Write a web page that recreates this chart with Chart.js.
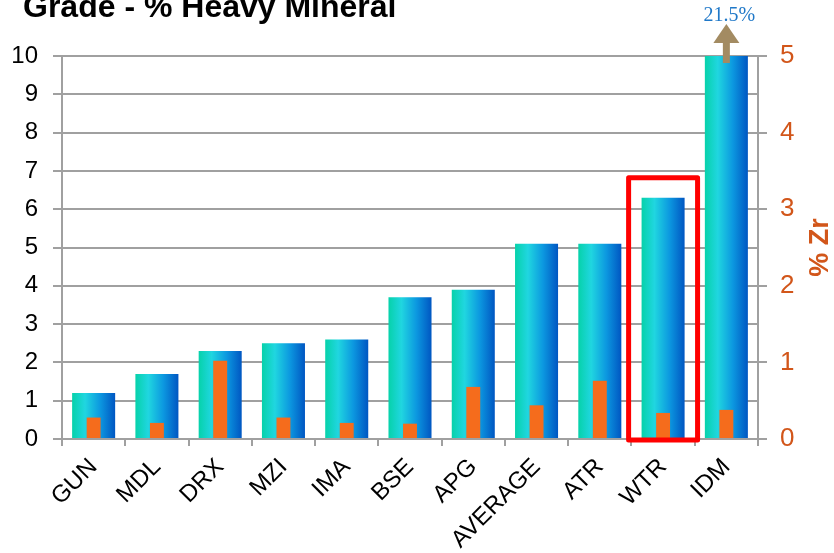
<!DOCTYPE html>
<html>
<head>
<meta charset="utf-8">
<script src="https://cdn.jsdelivr.net/npm/chart.js@4"></script>
<style>
  body { margin: 0; background: #fff; }
  canvas { display: block; }
</style>
</head>
<body>
<canvas id="grade" width="834" height="553"></canvas>
<script>
// sample sites, sorted by heavy mineral grade
const sites = ['GUN', 'MDL', 'DRX', 'MZI', 'IMA', 'BSE', 'APG', 'AVERAGE', 'ATR', 'WTR', 'IDM'];
// % heavy mineral (left axis) - IDM is off the scale, real value 21.5
const heavyMineral = [1.2, 1.7, 2.3, 2.5, 2.6, 3.7, 3.9, 5.1, 5.1, 6.3, 21.5];
// % Zr (right axis)
const zircon = [0.28, 0.21, 1.02, 0.28, 0.21, 0.2, 0.68, 0.44, 0.76, 0.34, 0.38];
const leftTicks = [0, 10];
const rightTicks = [0, 5];
const clippedSite = 'IDM';
const clippedLabel = '21.5%';
const boxedSite = 'WTR';

const gray = '#a0a0a0';
const orange = '#d2561a';

function barGradient(ctx) {
  const chart = ctx.chart;
  if (!chart.chartArea || ctx.type !== 'data') return '#12b4dc';
  const x = chart.scales.x;
  const cx = x.getPixelForValue(ctx.dataIndex);
  const w = (x.width / sites.length) * 0.68;
  const g = chart.ctx.createLinearGradient(cx - w / 2, 0, cx + w / 2, 0);
  g.addColorStop(0, '#06d2aa');
  g.addColorStop(0.3, '#20d6e0');
  g.addColorStop(0.65, '#0c98e0');
  g.addColorStop(1, '#0056c2');
  return g;
}

const extras = {
  id: 'extras',
  afterDraw(chart) {
    const c = chart.ctx;
    const x = chart.scales.x, y = chart.scales.y;
    const area = chart.chartArea;
    c.save();
    // chart title (cut off at the top like the original)
    c.fillStyle = '#000';
    c.font = 'bold 32px "Liberation Sans", Arial, sans-serif';
    c.textAlign = 'left';
    c.textBaseline = 'alphabetic';
    c.fillText('Grade - % Heavy Mineral', 23, 17);

    // right axis title, reads bottom to top
    c.save();
    c.translate(area.right + 63, (area.top + area.bottom) / 2);
    c.rotate(-Math.PI / 2);
    c.fillStyle = orange;
    c.font = 'bold 27px "Liberation Sans", Arial, sans-serif';
    c.textAlign = 'center';
    c.textBaseline = 'middle';
    c.fillText('% Zr', 0, 0);
    c.restore();

    // arrow + real value for the clipped bar
    const ix = x.getPixelForValue(sites.indexOf(clippedSite));
    const top = y.getPixelForValue(leftTicks[1]);
    c.fillStyle = '#a38b62';
    c.fillRect(ix - 3.5, top - 16, 7, 23);
    c.beginPath();
    c.moveTo(ix - 13, top - 13);
    c.lineTo(ix, top - 32);
    c.lineTo(ix + 13, top - 13);
    c.closePath();
    c.fill();
    c.fillStyle = '#1f78c8';
    c.font = '20px "Liberation Serif", "Times New Roman", serif';
    c.textAlign = 'center';
    c.fillText(clippedLabel, ix + 3, top - 35);

    // red box around WTR
    const bx = x.getPixelForValue(sites.indexOf(boxedSite));
    const half = (x.width / sites.length) * 0.545;
    const by0 = y.getPixelForValue(6.82);
    const by1 = y.getPixelForValue(0) + 1;
    c.strokeStyle = '#ff0000';
    c.lineWidth = 5;
    c.lineJoin = 'round';
    c.strokeRect(bx - half, by0, half * 2, by1 - by0);
    c.restore();
  }
};

new Chart(document.getElementById('grade'), {
  type: 'bar',
  data: {
    labels: sites,
    datasets: [
      {
        label: '% Heavy Mineral',
        data: heavyMineral,
        yAxisID: 'y',
        backgroundColor: barGradient,
        barPercentage: 0.68,
        categoryPercentage: 1,
        grouped: false,
        order: 2
      },
      {
        label: '% Zr',
        data: zircon,
        yAxisID: 'y1',
        backgroundColor: '#f56c1c',
        barPercentage: 0.22,
        categoryPercentage: 1,
        grouped: false,
        order: 1
      }
    ]
  },
  options: {
    responsive: false,
    animation: false,
    devicePixelRatio: 1,
    layout: { padding: { top: 56, left: 0, right: 0, bottom: 0 } },
    plugins: { legend: { display: false }, tooltip: { enabled: false } },
    scales: {
      x: {
        offset: true,
        grid: { drawOnChartArea: false, color: gray, lineWidth: 2, tickLength: 7 },
        border: { color: gray, width: 2 },
        ticks: {
          color: '#000',
          font: { family: '"Liberation Sans", Arial, sans-serif', size: 24 },
          minRotation: 45,
          maxRotation: 45,
          padding: 7,
          autoSkip: false
        },
        afterFit: s => { s.height = 114; }
      },
      y: {
        position: 'left',
        min: leftTicks[0],
        max: leftTicks[1],
        grid: { color: gray, lineWidth: 2, tickLength: 9 },
        border: { color: gray, width: 2 },
        ticks: {
          stepSize: 1,
          color: '#000',
          padding: 15,
          font: { family: '"Liberation Sans", Arial, sans-serif', size: 24 }
        },
        afterFit: s => { s.width = 62; }
      },
      y1: {
        position: 'right',
        min: rightTicks[0],
        max: rightTicks[1],
        grid: { drawOnChartArea: false, color: gray, lineWidth: 2, tickLength: 9 },
        border: { color: gray, width: 2 },
        ticks: {
          stepSize: 1,
          color: orange,
          padding: 13,
          font: { family: '"Liberation Sans", Arial, sans-serif', size: 26 }
        },
        afterFit: s => { s.width = 76; }
      }
    }
  },
  plugins: [extras]
});
</script>
</body>
</html>
